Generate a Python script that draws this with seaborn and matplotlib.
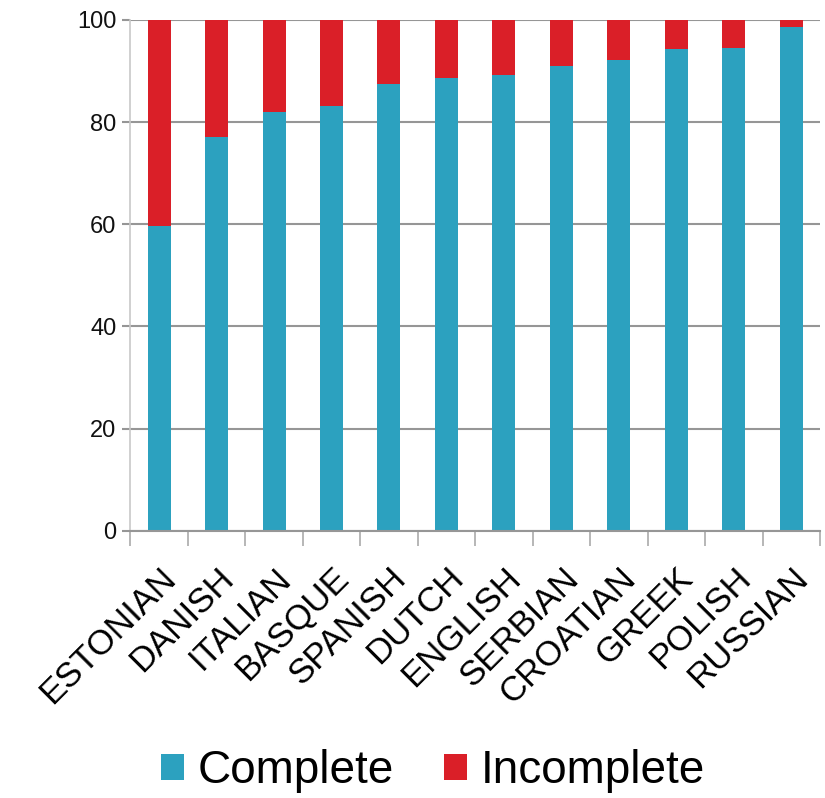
import numpy as np
import pandas as pd
import matplotlib.pyplot as plt
import seaborn as sns

languages = ["ESTONIAN", "DANISH", "ITALIAN", "BASQUE", "SPANISH", "DUTCH",
             "ENGLISH", "SERBIAN", "CROATIAN", "GREEK", "POLISH", "RUSSIAN"]
complete = [59.7, 77.0, 81.9, 83.2, 87.4, 88.6, 89.2, 90.9, 92.1, 94.4, 94.6, 98.6]
incomplete = [100 - c for c in complete]

df = pd.DataFrame({"language": languages, "Complete": complete, "Incomplete": incomplete})
df["total"] = df["Complete"] + df["Incomplete"]

blue = "#2CA1BF"
red = "#DA1F28"
grid_c = "#969696"

sns.set_style("white")
plt.rcParams["font.family"] = ["Liberation Sans", "DejaVu Sans"]

fig = plt.figure(figsize=(8.25, 7.98), dpi=100)
ax = fig.add_axes([0.158, 0.335, 0.836, 0.64])

# stacked: total (red) then complete (blue) on top
sns.barplot(data=df, x="language", y="total", color=red, width=0.4,
            saturation=1, linewidth=0, ax=ax, label="Incomplete")
sns.barplot(data=df, x="language", y="Complete", color=blue, width=0.4,
            saturation=1, linewidth=0, ax=ax, label="Complete")

ax.set_ylim(0, 100)
ax.set_xlim(-0.5, len(languages) - 0.5)
ax.set_yticks([0, 20, 40, 60, 80, 100])
ax.yaxis.grid(True, color=grid_c, linewidth=1.5)
ax.set_axisbelow(True)
ax.set_xlabel("")
ax.set_ylabel("")

for s in ["top", "right"]:
    ax.spines[s].set_visible(False)
ax.spines["left"].set_color("#c8c8c8")
ax.spines["left"].set_linewidth(1.2)
ax.spines["bottom"].set_color(grid_c)
ax.spines["bottom"].set_linewidth(1.5)

ax.tick_params(axis="y", left=True, length=6, width=1.5, color=grid_c,
               labelsize=17, pad=4, labelcolor="#111111")
ax.set_xticks(range(len(languages)))
ax.set_xticklabels(languages, rotation=45, ha="right", va="top",
                   rotation_mode="anchor", fontsize=25, color="#000000")
ax.tick_params(axis="x", which="major", length=0, pad=22)
ax.set_xticks(np.arange(-0.5, len(languages)), minor=True)
ax.tick_params(axis="x", which="minor", bottom=True, length=11, width=1.2,
               color="#aaaaaa")

handles, labels = ax.get_legend_handles_labels()
order = [labels.index("Complete"), labels.index("Incomplete")]
if ax.get_legend():
    ax.get_legend().remove()
leg = fig.legend([handles[i] for i in order], [labels[i] for i in order],
                 loc="center", bbox_to_anchor=(0.525, 0.034), ncol=2, frameon=False,
                 fontsize=33, handlelength=0.5, handleheight=0.5,
                 handletextpad=0.3, columnspacing=1.1)
for t in leg.get_texts():
    t.set_color("#000000")

fig.savefig("out.png", dpi=100)
